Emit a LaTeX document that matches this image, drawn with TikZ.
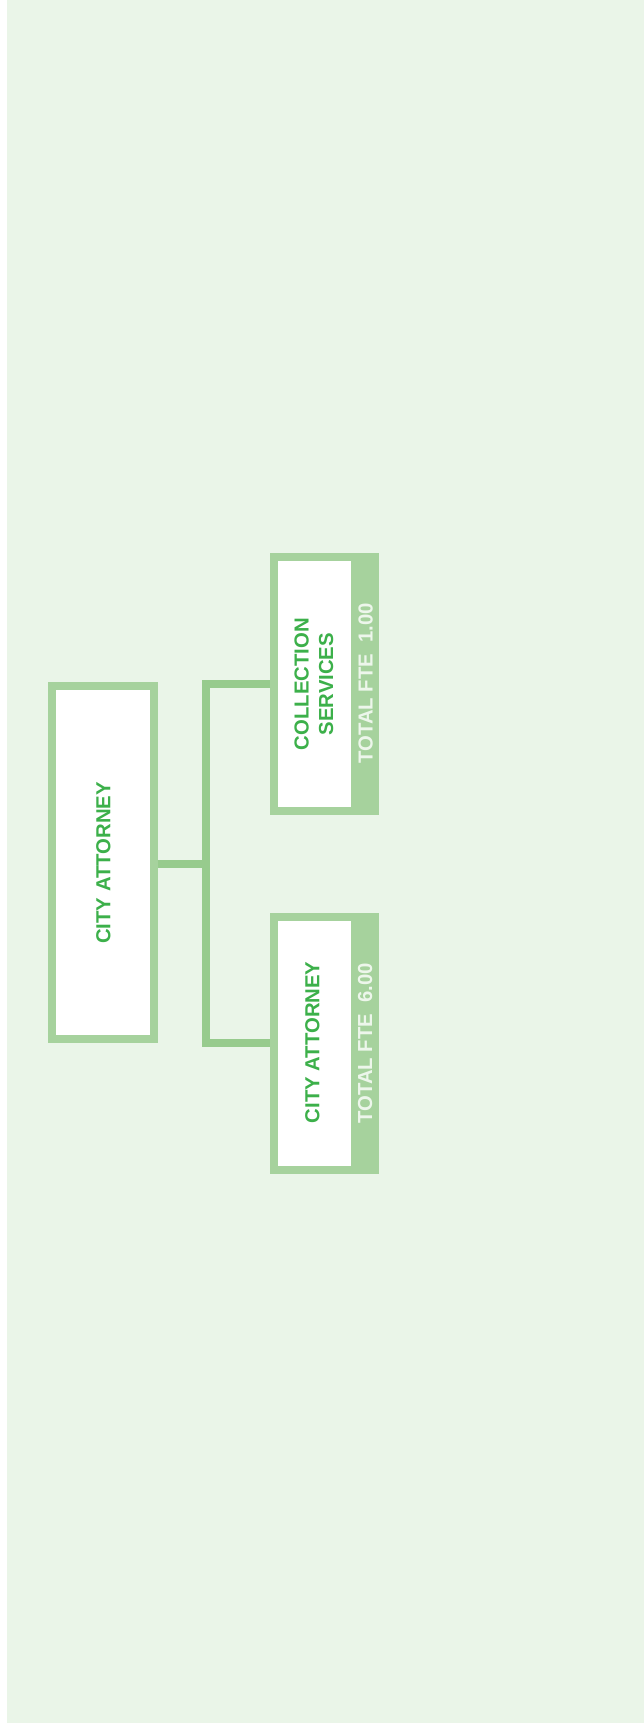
\documentclass[tikz,border=0pt]{standalone}
\usepackage{fontspec}
\setmainfont{Liberation Sans}
\usetikzlibrary{calc}
\definecolor{pagegreen}{HTML}{EAF5E8}
\definecolor{boxgreen}{HTML}{A6D29D}
\definecolor{linkgreen}{HTML}{97CB8D}
\definecolor{titlegreen}{HTML}{3CB04A}
\definecolor{ftelight}{HTML}{EDF6EB}
\tikzset{
  headbox/.style={draw=boxgreen, fill=white, line width=8pt, inner sep=0pt,
    minimum width=101.4pt, minimum height=352.4pt},
  unitbox/.style={draw=boxgreen, fill=white, line width=8pt, inner sep=0pt,
    minimum width=101.3pt, minimum height=253.6pt,
    path picture={\fill[boxgreen] ([xshift=-24.3pt]path picture bounding box.north east)
      rectangle (path picture bounding box.south east);}},
  unittxt/.style={rotate=90, inner sep=0pt, align=center, text=titlegreen,
    font=\fontsize{20.3}{24.4}\selectfont\bfseries},
  ftetxt/.style={rotate=90, inner sep=0pt, text=ftelight,
    font=\fontsize{20.3}{24}\selectfont\bfseries},
  link/.style={draw=linkgreen, line width=8pt, line join=miter}
}
\begin{document}
\begin{tikzpicture}[x=1pt, y=-1pt]
\useasboundingbox (0,0) rectangle (644,1723);
\fill[white] (0,0) rectangle (644,1723);
\fill[pagegreen] (7,0) rectangle (644,1723);

% head of the office
\node[headbox] (chief) at (103,862.5) {};
\node[unittxt] (chieftxt) at (103.3,863) {CITY ATTORNEY};

% the two units
\node[unitbox] (collect) at (324.65,684.2) {};
\node[unittxt] (collecttxt) at ($(collect)+(-10.8,0)$) {COLLECTION\\SERVICES};
\node[ftetxt] (collectfte) at ($(collect)+(41,-0.9)$) {TOTAL FTE\ \ 1.00};

\node[unitbox] (office) at (324.65,1043.3) {};
\node[unittxt] (officetxt) at ($(office)+(-12.2,-1)$) {CITY ATTORNEY};
\node[ftetxt] (officefte) at ($(office)+(40.4,0)$) {TOTAL FTE\ \ 6.00};

% connectors
\coordinate (spine) at (205.7,864);
\draw[link] (chief.east |- spine) -- (spine);
\draw[link] (collect.west) -| (spine) |- (office.west);
\end{tikzpicture}
\end{document}
